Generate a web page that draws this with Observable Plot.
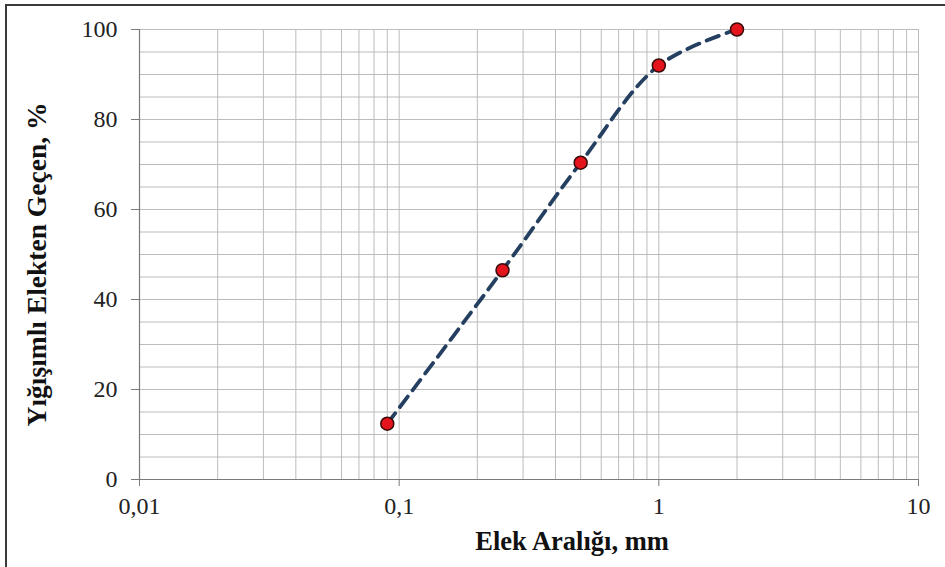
<!DOCTYPE html>
<html><head><meta charset="utf-8">
<script src="https://cdn.jsdelivr.net/npm/d3@7"></script>
<script src="https://cdn.jsdelivr.net/npm/@observablehq/plot@0.6"></script>
<style>
body{margin:0;background:#fff}
#wrap{position:relative;width:945px;height:567px;overflow:hidden;background:#fff}
#wrap svg{display:block}
#frame{position:absolute;left:5px;top:4px;right:-10px;bottom:-10px;border-left:2px solid #3a3a3a;border-top:2px solid #3a3a3a;pointer-events:none}
</style></head><body><div id="wrap"></div>
<script>
// Data
const sieveSize = [0.09, 0.25, 0.5, 1, 2];          // Elek Aralığı, mm
const passing   = [12.4, 46.5, 70.4, 92.0, 100];    // Yığışımlı Elekten Geçen, %
const xTicks = [0.01, 0.1, 1, 10];
const xTickLabels = ["0,01", "0,1", "1", "10"];
const yTicks = [0, 20, 40, 60, 80, 100];
const xLabel = "Elek Aralığı, mm";
const yLabel = "Yığışımlı Elekten Geçen, %";

const xGrid = [-2, -1, 0].flatMap(e => [1,2,3,4,5,6,7,8,9].map(m => +(m * 10 ** e).toPrecision(3))).concat([10]);
const yGrid = d3.range(0, 101, 5);
const data = sieveSize.map((x, i) => ({x, y: passing[i]}));

const serif = "'Liberation Serif', 'Times New Roman', 'DejaVu Serif', serif";
const chart = Plot.plot({
  width: 945, height: 567,
  marginLeft: 139, marginRight: 27, marginTop: 29, marginBottom: 88,
  x: {type: "log", domain: [0.01, 10]},
  y: {domain: [0, 100]},
  style: {fontFamily: serif, fontSize: "24px", background: "#fff", color: "#222"},
  marks: [
    Plot.gridX(xGrid, {stroke: "#bcbcbc", strokeOpacity: 1, strokeWidth: 1}),
    Plot.gridY(yGrid, {stroke: "#bcbcbc", strokeOpacity: 1, strokeWidth: 1}),
    Plot.ruleX([0.01], {stroke: "#7a7a7a", strokeWidth: 1.2}),
    Plot.ruleY([0], {stroke: "#7a7a7a", strokeWidth: 1.2}),
    Plot.axisX(xTicks, {tickFormat: d => xTickLabels[xTicks.indexOf(d)], tickSize: 7, tickPadding: 10, fontSize: 24, label: null, stroke: "#7a7a7a", fill: "#222"}),
    Plot.axisY(yTicks, {tickSize: 8, tickPadding: 14, fontSize: 24, label: null, stroke: "#7a7a7a", fill: "#222"}),
    Plot.line(data, {x: "x", y: "y", curve: "catmull-rom", stroke: "#243f60", strokeWidth: 3.8, strokeDasharray: "13,8"}),
    Plot.dot(data, {x: "x", y: "y", r: 6.5, fill: "#e3141b", stroke: "#3a0a0a", strokeWidth: 1.5}),
    Plot.text([xLabel], {frameAnchor: "bottom", dx: 43, dy: 70, fontSize: 26.5, fontWeight: "bold", fill: "#111"}),
    Plot.text([yLabel], {frameAnchor: "left", textAnchor: "middle", rotate: -90, dx: -102, dy: 10, fontSize: 27.5, fontWeight: "bold", fill: "#111"})
  ]
});
const wrap = document.getElementById("wrap");
wrap.appendChild(chart);
const frame = document.createElement("div");
frame.id = "frame";
wrap.appendChild(frame);
</script></body></html>
